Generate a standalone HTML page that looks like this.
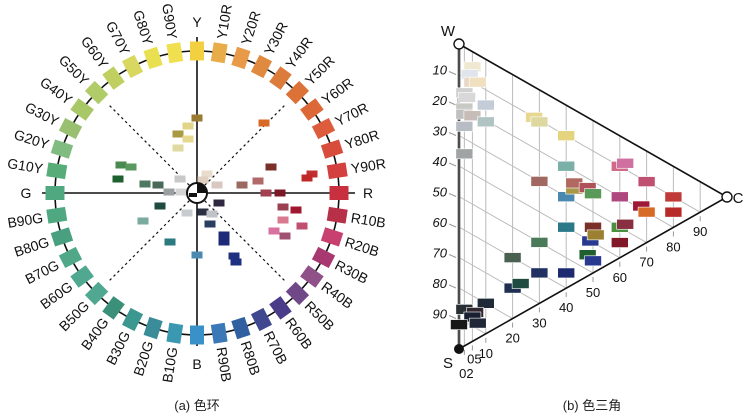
<!DOCTYPE html>
<html><head><meta charset="utf-8"><style>
html,body{margin:0;padding:0;background:#fff;}
svg{display:block;font-family:"Liberation Sans","Noto Sans CJK SC",sans-serif;}
</style></head><body>
<svg id="s" width="749" height="419" viewBox="0 0 749 419">
<g id="wheel"></g>
<g id="tri"></g>
<text x="197" y="410" font-size="13" text-anchor="middle" fill="#222">(a) 色环</text>
<text x="592" y="410" font-size="13" text-anchor="middle" fill="#222">(b) 色三角</text>
</svg>
<script>
const hueLabels=["Y","Y10R","Y20R","Y30R","Y40R","Y50R","Y60R","Y70R","Y80R","Y90R","R","R10B","R20B","R30B","R40B","R50B","R60B","R70B","R80B","R90B","B","B10G","B20G","B30G","B40G","B50G","B60G","B70G","B80G","B90G","G","G10Y","G20Y","G30Y","G40Y","G50Y","G60Y","G70Y","G80Y","G90Y"];
const hueColors=["#f2d040","#e8ac48","#e89a48","#e08a40","#dc7c3c","#dc7238","#dc6838","#dc5c3c","#d84c3c","#d44040","#c83040","#b83048","#c84070","#a83870","#905088","#704888","#4a3c88","#404890","#3060a0","#3a78b8","#3a90c8","#3a98b0","#3a8c98","#3a9890","#3a9078","#50a890","#50a890","#50a888","#48a080","#50a880","#50a880","#58ac78","#80bc80","#98c070","#a8c868","#b0cc68","#c0d060","#d8d860","#e8e050","#f0e050"];
const wheelSamples=[[197,118,"#9a7a30"],[188,126,"#e2d48a"],[178,134,"#a89a40"],[188,139,"#e6d890"],[178,148,"#dedaa0"],[121,165,"#4a8a50"],[131,167,"#5a9a60"],[118,179,"#1e6030"],[145,184,"#4c7a60"],[158,185,"#4a6a58"],[180,179,"#c8c8c8"],[169,192,"#9aa0a0"],[181,192,"#d4d4d4"],[207,174,"#e8dccc"],[203,180,"#e0d0c0"],[217,185,"#d8c8c0"],[242,185,"#9a6a60"],[258,181,"#b06a6a"],[271,167,"#7a3028"],[312,174,"#c03030"],[307,178,"#c02828"],[266,193,"#a04050"],[280,193,"#7a1828"],[264,123,"#d86a28"],[160,206,"#1e4a40"],[143,221,"#7aaaa0"],[170,242,"#2a7a80"],[197,255,"#4a8ab0"],[187,213,"#c8ccd0"],[203,212,"#2a3040"],[212,214,"#c0c4c8"],[210,224,"#2a4060"],[219,203,"#302840"],[224,235,"#1e2a78"],[224,242,"#1e2a78"],[234,256,"#203080"],[236,262,"#203080"],[283,207,"#9a4050"],[296,210,"#a01830"],[283,220,"#d87a90"],[302,226,"#c05070"],[274,231,"#d870a0"],[285,236,"#a05070"]];
const triSamples=[[5,5,"#f0e8d0"],[4,8,"#e0e4ec"],[5,10,"#e8d8c8"],[7,9,"#f0e0c0"],[2,15,"#d0d0d0"],[3,16,"#d8d8d8"],[10,15,"#c4ccd8"],[2,20,"#c8c8c4"],[2,22,"#c0c0c0"],[5,21,"#c8bcb8"],[10,20.5,"#b0c4c4"],[2,26,"#b8bcc4"],[2,35,"#a0a4a4"],[28,10,"#e6d890"],[30,10.5,"#dcd8a0"],[40,10,"#e4d480"],[40,20,"#7ab0a8"],[60,10,"#d06a88"],[62,8,"#d070a0"],[70,10,"#c05070"],[80,10,"#c03a3a"],[40,30,"#4a88b0"],[43,26,"#a89848"],[43,24,"#b06860"],[60,20,"#b04880"],[48,23,"#b05058"],[50,24,"#5a9a58"],[68,19,"#a01838"],[70,20,"#d86a28"],[80,15,"#b82a2a"],[30,30,"#a06860"],[40,40,"#2a7888"],[50,35,"#7a3028"],[60,30,"#4a9040"],[62,28,"#883040"],[60,35,"#801828"],[49,40,"#283a90"],[51,37,"#9a8030"],[48,45,"#206030"],[50,46,"#283a90"],[30,50,"#4a7a58"],[20,60,"#4a6050"],[30,60,"#203060"],[40,55,"#1e2a70"],[20,70,"#202e50"],[23,67,"#1e4a40"],[10,80,"#1e2a38"],[2,86,"#283034"],[6,85,"#302830"],[5,87,"#1a2030"],[7,88,"#202838"],[0,92,"#181818"]];
const sTicks=["10","20","30","40","50","60","70","80","90"];
const cTicks=["02","05","10","20","30","40","50","60","70","80","90"];
const cTickVals=[2,5,10,20,30,40,50,60,70,80,90];

const NS="http://www.w3.org/2000/svg";
function mk(tag,attrs,parent){const e=document.createElementNS(NS,tag);for(const k in attrs)e.setAttribute(k,attrs[k]);parent.appendChild(e);return e;}
const W=document.getElementById('wheel'), T=document.getElementById('tri');
const cx=197,cy=193,R=142;
const pol=(r,deg)=>[cx+r*Math.sin(deg*Math.PI/180),cy-r*Math.cos(deg*Math.PI/180)];
let a=mk('line',{x1:42,y1:cy,x2:355,y2:cy,stroke:"#111","stroke-width":1.6},W);

a=mk('line',{x1:cx,y1:37,x2:cx,y2:346,stroke:"#111","stroke-width":1.6},W);

[45,135,225,315].forEach(d=>{const p=pol(126,d);const l=mk('line',{x1:cx,y1:cy,x2:p[0],y2:p[1],stroke:"#111","stroke-width":1.2,"stroke-dasharray":"2.5,3"},W);
});
const ring=mk('circle',{cx:cx,cy:cy,r:R,fill:"none",stroke:"#111","stroke-width":1.6},W);

hueLabels.forEach((lab,i)=>{const d=i*9;const p=pol(R,d);
 const c=mk('rect',{x:p[0]-7,y:p[1]-9.5,width:14,height:19,fill:hueColors[i],transform:`rotate(${d} ${p[0]} ${p[1]})`},W);
 
 let t;
 if(i%10===0){const q=pol(171,d);t=mk('text',{x:q[0],y:q[1]+5,"font-size":14,"text-anchor":"middle",fill:"#111"},W);}
 else{const q=pol(156,d);
  if(d<180) t=mk('text',{x:q[0],y:q[1],"font-size":14,"text-anchor":"start","dominant-baseline":"central",fill:"#111",transform:`rotate(${d-90} ${q[0]} ${q[1]})`},W);
  else t=mk('text',{x:q[0],y:q[1],"font-size":14,"text-anchor":"end","dominant-baseline":"central",fill:"#111",transform:`rotate(${d+90} ${q[0]} ${q[1]})`},W);}
 t.textContent=lab;
});
wheelSamples.forEach(s=>{const r=mk('rect',{x:s[0]-5.5,y:s[1]-3.5,width:11,height:7,fill:s[2]},W);
 });
let cs=mk('circle',{cx:cx,cy:cy,r:10,fill:"#fff",stroke:"#111","stroke-width":2},W);

cs=mk('path',{d:`M${cx} ${cy} L${cx} ${cy-10} A10 10 0 0 1 ${cx+10} ${cy} Z M${cx} ${cy} L${cx-8} ${cy} L${cx-8} ${cy+4} L${cx} ${cy+4} Z`,fill:"#111"},W);


const X0=459,Y0=44,SY=3.05,CX=2.68,CY=1.53;
const tx=(c,s)=>X0+CX*c, ty=(c,s)=>Y0+SY*s+CY*c;
for(let k=0;k<sTicks.length;k++){const s=+sTicks[k];
 const l=mk('line',{x1:tx(0,s),y1:ty(0,s),x2:tx(100-s,s),y2:ty(100-s,s),stroke:"#bbb","stroke-width":1},T);
 
 const tk=mk('line',{x1:X0-10,y1:ty(0,s)-3,x2:X0-3,y2:ty(0,s),stroke:"#999","stroke-width":1},T);
 
 const t=mk('text',{x:X0-12,y:ty(0,s),"font-size":13,"font-style":"italic","text-anchor":"end",fill:"#111"},T);
 t.textContent=sTicks[k];}
cTickVals.forEach((c,k)=>{const s=100-c;
 const l=mk('line',{x1:tx(c,0),y1:ty(c,0),x2:tx(c,s),y2:ty(c,s),stroke:"#bbb","stroke-width":1},T);
 
 const tk=mk('line',{x1:tx(c,s),y1:ty(c,s)+4,x2:tx(c,s),y2:ty(c,s)+9,stroke:"#999","stroke-width":1},T);
 
 let dy=20;if(c===2)dy=28;if(c===5)dy=18;
 const t=mk('text',{x:tx(c,s)+(c<10?2:0),y:ty(c,s)+dy+4,"font-size":13,"text-anchor":"middle",fill:"#111"},T);
 t.textContent=cTicks[k];});
let e=mk('line',{x1:X0,y1:Y0,x2:X0,y2:Y0+305,stroke:"#888","stroke-width":3},T);

e=mk('line',{x1:X0,y1:Y0,x2:X0,y2:Y0+305,stroke:"#111","stroke-width":1},T);

e=mk('path',{d:`M${X0} ${Y0} L${tx(100,0)} ${ty(100,0)} L${X0} ${Y0+305}`,fill:"none",stroke:"#111","stroke-width":1.6},T);

triSamples.forEach(p=>{const x=tx(p[0],p[1]),y=ty(p[0],p[1]);
 const r=mk('rect',{x:x-8.5,y:y-5,width:17,height:10,fill:p[2],stroke:"#fff","stroke-width":0.6},T);
 });
e=mk('circle',{cx:X0,cy:Y0,r:5,fill:"#fff",stroke:"#111","stroke-width":1.4},T);

e=mk('circle',{cx:tx(100,0),cy:ty(100,0),r:5,fill:"#fff",stroke:"#111","stroke-width":1.4},T);

e=mk('circle',{cx:X0,cy:Y0+305,r:5,fill:"#111"},T);

[["W",448,36],["C",738,203],["S",448,368]].forEach(v=>{const t=mk('text',{x:v[1],y:v[2],"font-size":15,"text-anchor":"middle",fill:"#111"},T);
 t.textContent=v[0];});
</script>
</body></html>
